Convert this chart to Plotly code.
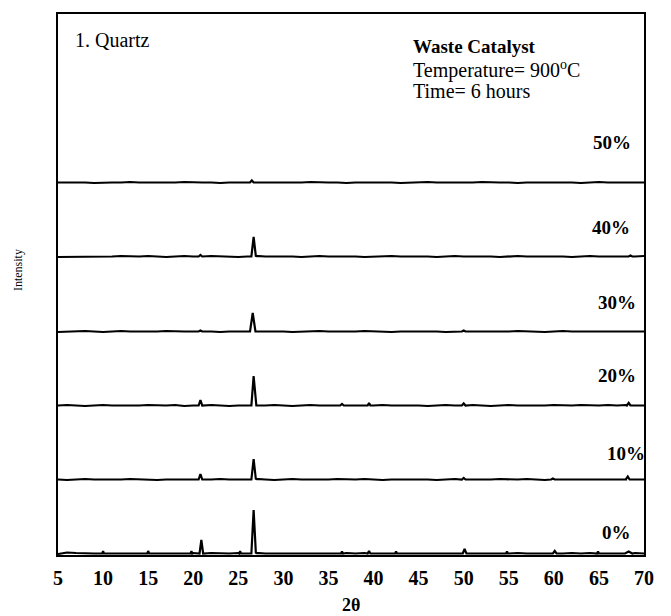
import plotly.graph_objects as go

# 2-theta grid (degrees) for the background of each pattern
two_theta = [5, 6, 7, 8, 9, 10, 11, 12, 13, 14,
             15, 16, 17, 18, 19, 20, 21, 22, 23, 24,
             25, 26, 27, 28, 29, 30, 31, 32, 33, 34,
             35, 36, 37, 38, 39, 40, 41, 42, 43, 44,
             45, 46, 47, 48, 49, 50, 51, 52, 53, 54,
             55, 56, 57, 58, 59, 60, 61, 62, 63, 64,
             65, 66, 67, 68, 69, 70]

# background noise (arbitrary intensity units)
noise_0 = [0, 1.5, 1, 0.5, 0.5, 1, 0.5, 0.5, 1, 0.5,
           1, 0.5, 0.5, 1, 0.5, 1, 0.5, 1, 0.5, 0.5,
           1, 0.5, 1, 0.5, 0.5, 1, 0.5, 1, 0.5, 0.5,
           1, 0.5, 1, 0.5, 1, 0.5, 0.5, 1, 0.5, 0.5,
           1, 0.5, 0.5, 1, 0.5, 1, 0.5, 0.5, 1, 0.5,
           0.5, 1, 0.5, 0.5, 1, 0.5, 0.5, 1, 0.5, 1,
           1, 0.5, 1, 1.5, 1, 0.5]
noise_10 = [0.5, 0, 0.5, 1, 0.5, 0.5, 0, 0.5, 1, 0.5,
            0.5, 0, 0.5, 0.5, 1, 0.5, 0, 0.5, 1, 0.5,
            0.5, 0.5, 1, 0.5, 0, 0.5, 1, 0.5, 0.5, 0,
            0.5, 1, 0.5, 0.5, 1, 0.5, 0, 0.5, 0.5, 1,
            0.5, 0.5, 0, 0.5, 1, 0.5, 0.5, 0, 0.5, 1,
            0.5, 0.5, 1, 0.5, 0, 0.5, 0.5, 1, 0.5, 0.5,
            1, 0.5, 0.5, 1, 0.5, 0.5]
noise_20 = [0.5, 1, 0.5, 0, 0.5, 1, 0.5, 0.5, 0, 0.5,
            1, 0.5, 0.5, 1, 0, 0.5, 0.5, 1, 0.5, 0,
            0.5, 1, 0.5, 0.5, 1, 0.5, 0, 0.5, 1, 0.5,
            0.5, 1, 0.5, 0.5, 0, 0.5, 1, 0.5, 0.5, 1,
            0.5, 0, 0.5, 1, 0.5, 0.5, 1, 0.5, 0, 0.5,
            1, 0.5, 0.5, 0, 0.5, 1, 0.5, 0.5, 1, 0.5,
            0.5, 1, 0.5, 1, 0.5, 0.5]
noise_30 = [0, 0.5, 0.5, 1, 0.5, 0, 0.5, 1, 0.5, 0.5,
            0, 0.5, 1, 0.5, 0.5, 0.5, 1, 0.5, 0, 0.5,
            0.5, 1, 0.5, 0.5, 1, 0.5, 0, 0.5, 0.5, 1,
            0.5, 0.5, 0, 0.5, 1, 0.5, 0.5, 0, 0.5, 0.5,
            1, 0.5, 0.5, 0, 0.5, 1, 0.5, 0.5, 0.5, 0,
            0.5, 1, 0.5, 0.5, 0, 0.5, 1, 0.5, 0.5, 0.5,
            1, 0.5, 0.5, 0.5, 1, 0.5]
noise_40 = [0, 0, 0, 0, 0, 0.5, 0.5, 1, 0.5, 0.5,
            1, 0.5, 0, 0.5, 1, 0.5, 0.5, 1, 0.5, 0.5,
            0, 0.5, 1, 0.5, 0.5, 1, 0.5, 0, 0.5, 1,
            0.5, 0.5, 1, 0.5, 0, 0.5, 0.5, 1, 0.5, 0.5,
            1, 0.5, 0, 0.5, 1, 0.5, 0.5, 1, 0.5, 0,
            0.5, 1, 0.5, 0.5, 1, 0.5, 0.5, 0, 0.5, 1,
            0.5, 0.5, 1, 0.5, 0.5, 1]
noise_50 = [0.5, 0.5, 1, 0.5, 0, 0.5, 0.5, 0.5, 1, 0.5,
            0.5, 0, 0.5, 0.5, 1, 0.5, 0.5, 0.5, 0, 0.5,
            0.5, 1, 0.5, 0.5, 0.5, 0, 0.5, 0.5, 1, 0.5,
            0.5, 0.5, 0, 0.5, 0.5, 1, 0.5, 0.5, 0, 0.5,
            0.5, 1, 0.5, 0.5, 0.5, 0, 0.5, 1, 0.5, 0.5,
            0.5, 0, 0.5, 0.5, 1, 0.5, 0.5, 0.5, 0, 0.5,
            1, 0.5, 0.5, 0.5, 1, 0.5]

# diffraction peaks: [2-theta centre, height, half width]
peaks_0 = [[10.0, 3, 0.1], [15.0, 3, 0.1], [19.8, 3, 0.1], [20.9, 14, 0.2],
           [25.2, 3, 0.1], [26.7, 44, 0.25], [36.5, 2.5, 0.1], [39.5, 3, 0.15],
           [42.5, 2.5, 0.1], [50.1, 5, 0.2], [54.8, 2.5, 0.1], [60.1, 3, 0.2],
           [64.9, 2.5, 0.1], [68.3, 2.5, 0.4]]
peaks_10 = [[20.8, 6, 0.2], [26.7, 21, 0.25], [50.0, 2, 0.2],
            [59.9, 1.5, 0.2], [68.2, 3.5, 0.2]]
peaks_20 = [[20.8, 6, 0.2], [26.7, 30, 0.25], [36.5, 2, 0.2],
            [39.5, 3, 0.15], [50.0, 2.5, 0.2], [68.3, 3, 0.2]]
peaks_30 = [[20.8, 1.5, 0.2], [26.6, 19, 0.3], [50.0, 1.5, 0.2]]
peaks_40 = [[20.8, 2, 0.2], [26.7, 20, 0.25], [68.5, 1.5, 0.2]]
peaks_50 = [[26.5, 2.5, 0.2]]

labels = ["0%", "10%", "20%", "30%", "40%", "50%"]
offsets = [1, 75, 149, 223, 298, 372]
noises = [noise_0, noise_10, noise_20, noise_30, noise_40, noise_50]
peak_sets = [peaks_0, peaks_10, peaks_20, peaks_30, peaks_40, peaks_50]
label_x = [67.0, 68.0, 67.0, 67.0, 66.3, 66.4]
label_y = [23, 102, 180, 253, 328, 413]


def build(noise, peaks, off):
    pts = []
    for x, v in zip(two_theta, noise):
        if any(abs(x - c) <= w for c, h, w in peaks):
            continue
        pts.append((x, v))
    for c, h, w in peaks:
        pts.append((c - w, 0.5))
        pts.append((c, h))
        pts.append((c + w, 0.5))
    pts.sort()
    return [p[0] for p in pts], [p[1] + off for p in pts]


fig = go.Figure()
for lab, noise, peaks, off in zip(labels, noises, peak_sets, offsets):
    xs, ys = build(noise, peaks, off)
    fig.add_trace(go.Scatter(x=xs, y=ys, mode="lines", name=lab,
                             line=dict(color="black", width=2.2),
                             showlegend=False, hoverinfo="skip"))

serif = "Liberation Serif"
for lab, lx, ly in zip(labels, label_x, label_y):
    fig.add_annotation(x=lx, y=ly, text=lab, showarrow=False,
                       font=dict(family=serif, size=19, color="black", weight="bold"),
                       xanchor="center", yanchor="middle")

fig.add_annotation(x=6.67, y=515, text="1. Quartz", showarrow=False,
                   font=dict(family=serif, size=20, color="black"),
                   xanchor="left", yanchor="middle")
fig.add_annotation(x=44.1, y=509, text="Waste Catalyst", showarrow=False,
                   font=dict(family=serif, size=19, color="black", weight="bold"),
                   xanchor="left", yanchor="middle")
fig.add_annotation(x=44.1, y=486, text="Temperature= 900<sup>o</sup>C", showarrow=False,
                   font=dict(family=serif, size=20, color="black"),
                   xanchor="left", yanchor="middle")
fig.add_annotation(x=44.1, y=464, text="Time= 6 hours", showarrow=False,
                   font=dict(family=serif, size=20, color="black"),
                   xanchor="left", yanchor="middle")

fig.add_annotation(xref="paper", yref="paper", x=0.5, y=-0.0924,
                   text="2θ", showarrow=False,
                   font=dict(family=serif, size=18, color="black", weight="bold"),
                   xanchor="center", yanchor="middle")
fig.add_annotation(xref="paper", yref="paper", x=-0.068, y=0.527,
                   text="Intensity", showarrow=False, textangle=-90,
                   font=dict(family=serif, size=12, color="black"),
                   xanchor="center", yanchor="middle")

fig.update_layout(
    width=671, height=616,
    margin=dict(l=58, r=27, t=14, b=61),
    paper_bgcolor="white", plot_bgcolor="white",
    xaxis=dict(range=[5, 70], dtick=5, tick0=5, showgrid=False, zeroline=False,
               showline=True, mirror=True, linecolor="black", linewidth=2,
               ticks="", ticklabelstandoff=4,
               tickfont=dict(family=serif, size=20, color="black", weight="bold")),
    yaxis=dict(range=[0, 541], showgrid=False, zeroline=False, showticklabels=False,
               showline=True, mirror=True, linecolor="black", linewidth=2, ticks=""),
)

fig.write_html("out.html", config={"displayModeBar": False},
               post_script="document.body.style.margin='0';")
